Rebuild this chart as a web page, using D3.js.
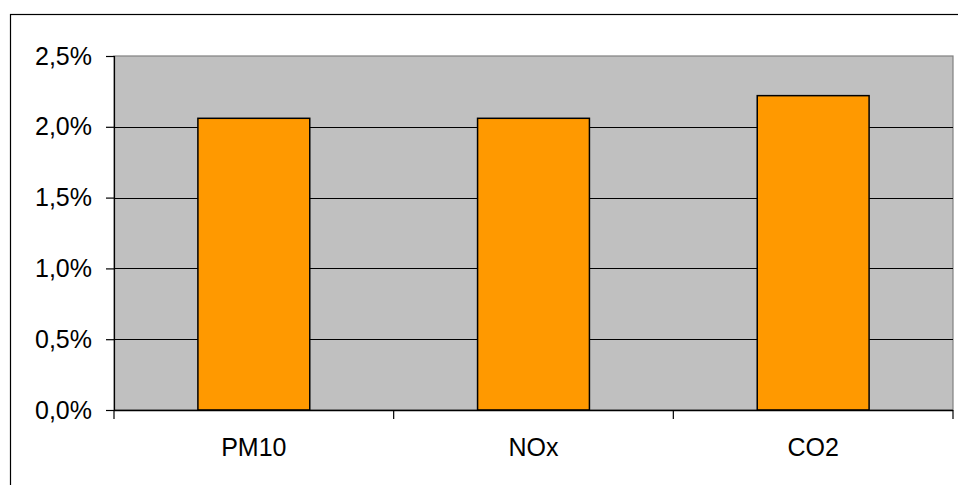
<!DOCTYPE html>
<html>
<head>
<meta charset="utf-8">
<script src="https://cdn.jsdelivr.net/npm/d3@7"></script>
<style>
  html, body { margin: 0; padding: 0; background: #fff; }
  svg { display: block; }
  text { font-family: "Liberation Sans", Arial, sans-serif; fill: #000; }
</style>
</head>
<body>
<svg id="chart" width="958" height="485"></svg>
<script>
// Emission shares per pollutant
const categories = ["PM10", "NOx", "CO2"];
const shares = [0.0206, 0.0206, 0.0222];
const yTicks = [0, 0.005, 0.010, 0.015, 0.020, 0.025];

const svg = d3.select("#chart");
const plot = { left: 114, right: 953, top: 56, bottom: 410 };

// Outer chart frame (runs off the right and bottom edges)
svg.append("rect")
  .attr("x", 10.5).attr("y", 14.5)
  .attr("width", 1000).attr("height", 600)
  .attr("fill", "#fff").attr("stroke", "#000").attr("stroke-width", 1.2);

const x = d3.scaleBand()
  .domain(categories)
  .range([plot.left, plot.right])
  .paddingInner(0.6)
  .paddingOuter(0.3);

const y = d3.scaleLinear()
  .domain([0, 0.025])
  .range([plot.bottom, plot.top]);

// Plot area background
svg.append("rect")
  .attr("x", plot.left).attr("y", plot.top)
  .attr("width", plot.right - plot.left)
  .attr("height", plot.bottom - plot.top)
  .attr("fill", "#c0c0c0")
  .attr("stroke", "#808080").attr("stroke-width", 1.2);

// Horizontal gridlines
svg.append("g")
  .selectAll("line")
  .data(yTicks.filter(t => t > 0 && t < 0.025))
  .join("line")
  .attr("x1", plot.left).attr("x2", plot.right)
  .attr("y1", d => Math.round(y(d)) + 0.5)
  .attr("y2", d => Math.round(y(d)) + 0.5)
  .attr("stroke", "#000").attr("stroke-width", 1);

// Bars
svg.append("g")
  .selectAll("rect")
  .data(categories.map((c, i) => ({ c, v: shares[i] })))
  .join("rect")
  .attr("x", d => x(d.c))
  .attr("y", d => y(d.v))
  .attr("width", x.bandwidth())
  .attr("height", d => y(0) - y(d.v))
  .attr("fill", "#ff9900")
  .attr("stroke", "#000").attr("stroke-width", 1.5);

// Y axis
const fmt = d => (d * 100).toFixed(1).replace(".", ",") + "%";
const yAxis = d3.axisLeft(y)
  .tickValues(yTicks)
  .tickFormat(fmt)
  .tickSize(8)
  .tickPadding(14);
const gy = svg.append("g")
  .attr("transform", `translate(${plot.left},0)`)
  .call(yAxis);
gy.select(".domain").attr("stroke", "#000").attr("stroke-width", 1.2);
gy.selectAll(".tick line").attr("stroke", "#000").attr("stroke-width", 1.2);
gy.selectAll(".tick text")
  .attr("font-size", 25)
  .attr("font-family", "Liberation Sans, Arial, sans-serif")
  .attr("fill", "#000");

// X axis line with ticks at category boundaries
const boundaries = d3.range(categories.length + 1).map(i => plot.left + i * (plot.right - plot.left) / categories.length);
svg.append("line")
  .attr("x1", plot.left).attr("x2", plot.right)
  .attr("y1", plot.bottom + 0.5).attr("y2", plot.bottom + 0.5)
  .attr("stroke", "#000").attr("stroke-width", 1.5);
svg.append("g")
  .selectAll("line")
  .data(boundaries)
  .join("line")
  .attr("x1", d => d).attr("x2", d => d)
  .attr("y1", plot.bottom).attr("y2", plot.bottom + 9)
  .attr("stroke", "#000").attr("stroke-width", 1.2);

svg.append("g")
  .selectAll("text")
  .data(categories)
  .join("text")
  .attr("x", d => x(d) + x.bandwidth() / 2)
  .attr("y", 456)
  .attr("text-anchor", "middle")
  .attr("font-size", 25)
  .text(d => d);
</script>
</body>
</html>
